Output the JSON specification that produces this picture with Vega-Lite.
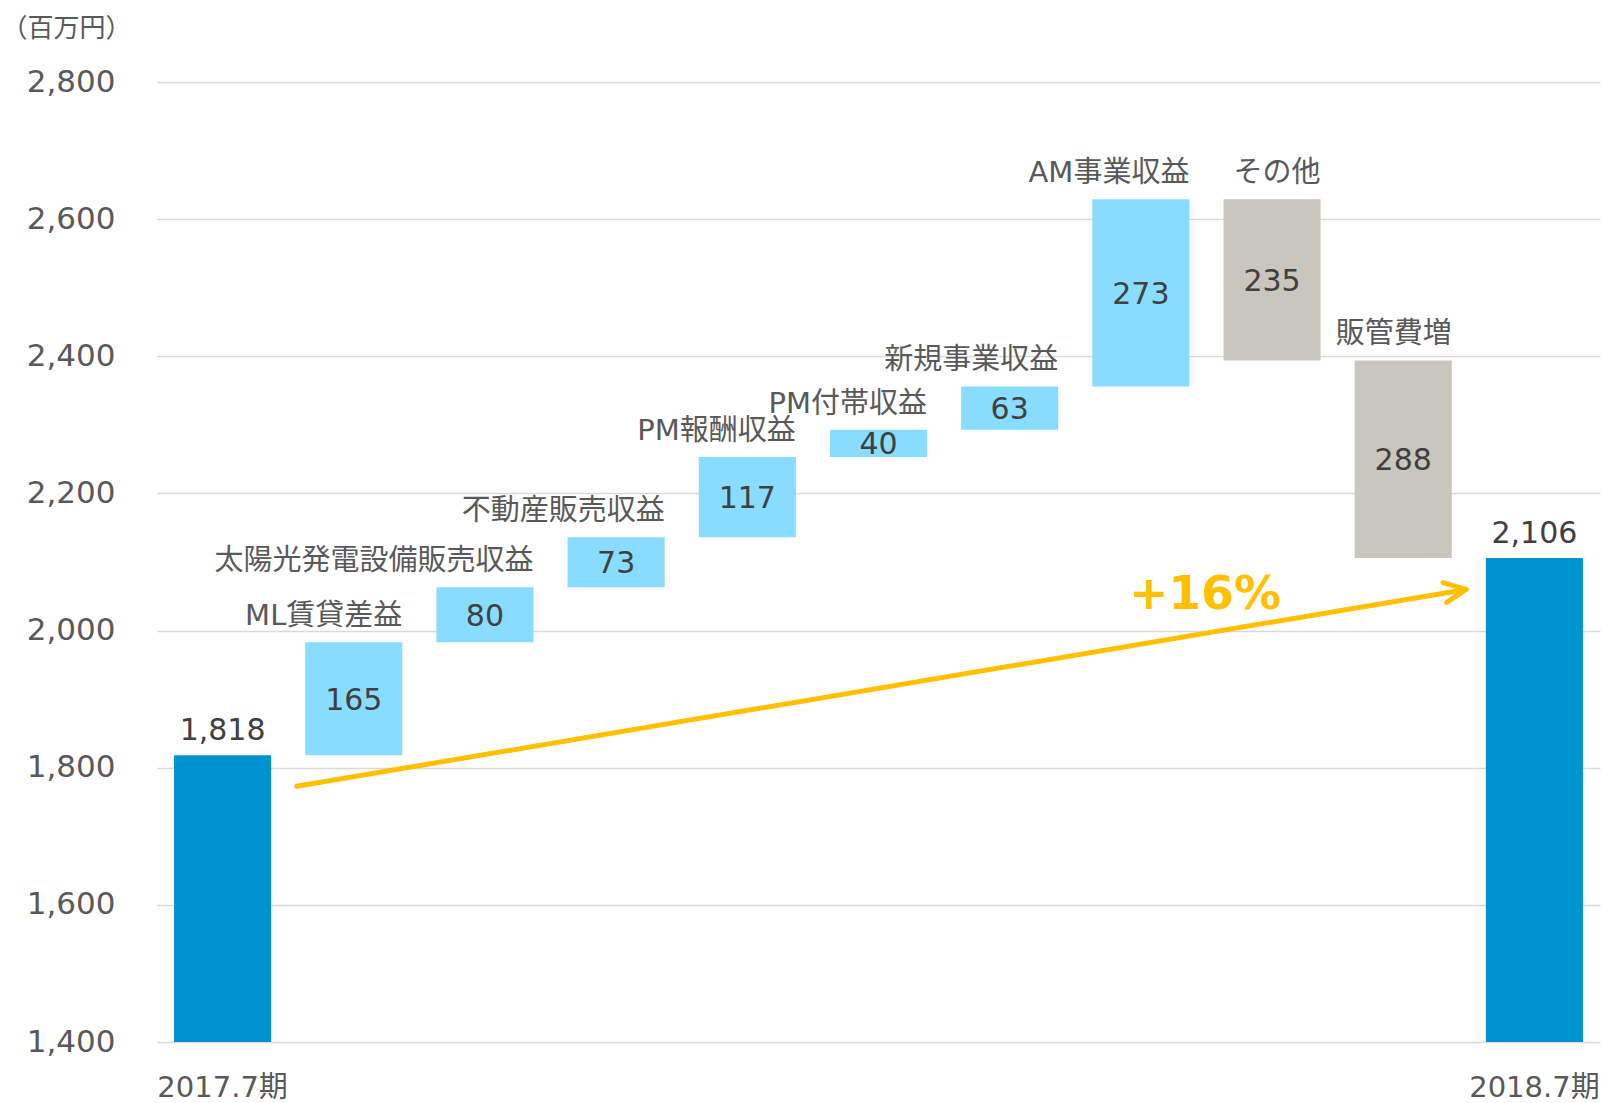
{
  "$schema": "https://vega.github.io/schema/vega-lite/v6.json",
  "width": 1443,
  "height": 960,
  "autosize": {"type": "none"},
  "padding": {"left": 157, "top": 82, "right": 2, "bottom": 61},
  "background": "white",
  "config": {
    "view": {"stroke": null},
    "font": "DejaVu Sans, Noto Sans CJK JP",
    "axisY": {
      "labelFontSize": 31, "labelColor": "#595959", "labelPadding": 42,
      "ticks": false, "domain": false, "grid": true, "gridColor": "#D9D9D9", "gridWidth": 1.5,
      "titleAngle": 0, "titleAlign": "left", "titleBaseline": "middle",
      "titleX": -156, "titleY": -54, "titleFontSize": 26, "titleFontWeight": "normal",
      "titleColor": "#595959", "titleFont": "Noto Sans CJK JP"
    }
  },
  "datasets": {
    "steps": [
      {"cat": "2017.7期", "type": "total", "start": 0, "end": 1818, "label": "1,818"},
      {"cat": "ML賃貸差益", "type": "increase", "start": 1818, "end": 1983, "label": "165"},
      {"cat": "太陽光発電設備販売収益", "type": "increase", "start": 1983, "end": 2063, "label": "80"},
      {"cat": "不動産販売収益", "type": "increase", "start": 2063, "end": 2136, "label": "73"},
      {"cat": "PM報酬収益", "type": "increase", "start": 2136, "end": 2253, "label": "117"},
      {"cat": "PM付帯収益", "type": "increase", "start": 2253, "end": 2293, "label": "40"},
      {"cat": "新規事業収益", "type": "increase", "start": 2293, "end": 2356, "label": "63"},
      {"cat": "AM事業収益", "type": "increase", "start": 2356, "end": 2629, "label": "273"},
      {"cat": "その他", "type": "decrease", "start": 2629, "end": 2394, "label": "235"},
      {"cat": "販管費増", "type": "decrease", "start": 2394, "end": 2106, "label": "288"},
      {"cat": "2018.7期", "type": "total", "start": 0, "end": 2106, "label": "2,106"}
    ],
    "arrow": [
      {"xa": 1.065, "ya": 1773, "xb": 9.979, "yb": 2060},
      {"xa": 9.803, "ya": 2070, "xb": 9.979, "yb": 2060},
      {"xa": 9.831, "ya": 2041, "xb": 9.979, "yb": 2060}
    ],
    "growth": [{"xp": 7.99, "yp": 2031, "t": "+16%"}]
  },
  "resolve": {"scale": {"x": "independent"}, "axis": {"x": "independent"}},
  "layer": [
    {
      "data": {"name": "steps"},
      "mark": {"type": "bar", "clip": true},
      "encoding": {
        "x": {
          "field": "cat", "type": "nominal",
          "scale": {"type": "band", "domain": ["2017.7期", "ML賃貸差益", "太陽光発電設備販売収益", "不動産販売収益", "PM報酬収益", "PM付帯収益", "新規事業収益", "AM事業収益", "その他", "販管費増", "2018.7期"], "paddingInner": 0.26, "paddingOuter": 0.13},
          "axis": {
            "title": null, "labelAngle": 0, "labelFontSize": 29, "labelColor": "#595959",
            "labelPadding": 31, "ticks": false, "domain": false, "grid": false, "labelOverlap": false,
            "labelExpr": "datum.label == '2017.7期' || datum.label == '2018.7期' ? datum.label : ''"
          }
        },
        "y": {
          "field": "start", "type": "quantitative",
          "scale": {"domain": [1400, 2800], "nice": false, "zero": false},
          "axis": {"title": "（百万円）", "labelExpr": "format(datum.value, ',')", "values": [1400, 1600, 1800, 2000, 2200, 2400, 2600, 2800]}
        },
        "y2": {"field": "end"},
        "color": {
          "field": "type", "type": "nominal",
          "scale": {"domain": ["total", "increase", "decrease"], "range": ["#0093D0", "#87DCFF", "#C9C6BD"]},
          "legend": null
        }
      }
    },
    {
      "data": {"name": "steps"},
      "transform": [
        {"filter": "datum.type != 'total'"},
        {"fold": ["start", "end"], "as": ["k", "v"]}
      ],
      "mark": {"type": "text", "fontSize": 30, "color": "#404040", "baseline": "middle", "dy": 2},
      "encoding": {
        "x": {
          "field": "cat", "type": "nominal",
          "scale": {"type": "band", "domain": ["2017.7期", "ML賃貸差益", "太陽光発電設備販売収益", "不動産販売収益", "PM報酬収益", "PM付帯収益", "新規事業収益", "AM事業収益", "その他", "販管費増", "2018.7期"], "paddingInner": 0.26, "paddingOuter": 0.13},
          "axis": null
        },
        "y": {"field": "v", "aggregate": "mean", "type": "quantitative", "axis": {"title": "（百万円）", "labelExpr": "format(datum.value, ',')", "values": [1400, 1600, 1800, 2000, 2200, 2400, 2600, 2800]}},
        "text": {"field": "label", "type": "nominal"}
      }
    },
    {
      "data": {"name": "steps"},
      "transform": [
        {"filter": "datum.type != 'total'"},
        {"fold": ["start", "end"], "as": ["k", "v"]}
      ],
      "mark": {"type": "text", "fontSize": 29, "color": "#595959", "baseline": "alphabetic", "align": "right", "dy": -17},
      "encoding": {
        "x": {
          "field": "cat", "type": "nominal", "bandPosition": 1,
          "scale": {"type": "band", "domain": ["2017.7期", "ML賃貸差益", "太陽光発電設備販売収益", "不動産販売収益", "PM報酬収益", "PM付帯収益", "新規事業収益", "AM事業収益", "その他", "販管費増", "2018.7期"], "paddingInner": 0.26, "paddingOuter": 0.13},
          "axis": null
        },
        "y": {"field": "v", "aggregate": "max", "type": "quantitative", "axis": {"title": "（百万円）", "labelExpr": "format(datum.value, ',')", "values": [1400, 1600, 1800, 2000, 2200, 2400, 2600, 2800]}},
        "text": {"field": "cat", "type": "nominal"}
      }
    },
    {
      "data": {"name": "steps"},
      "transform": [{"filter": "datum.type == 'total'"}],
      "mark": {"type": "text", "fontSize": 30, "color": "#404040", "baseline": "alphabetic", "dy": -15},
      "encoding": {
        "x": {
          "field": "cat", "type": "nominal",
          "scale": {"type": "band", "domain": ["2017.7期", "ML賃貸差益", "太陽光発電設備販売収益", "不動産販売収益", "PM報酬収益", "PM付帯収益", "新規事業収益", "AM事業収益", "その他", "販管費増", "2018.7期"], "paddingInner": 0.26, "paddingOuter": 0.13},
          "axis": null
        },
        "y": {"field": "end", "type": "quantitative", "axis": {"title": "（百万円）", "labelExpr": "format(datum.value, ',')", "values": [1400, 1600, 1800, 2000, 2200, 2400, 2600, 2800]}},
        "text": {"field": "label", "type": "nominal"}
      }
    },
    {
      "data": {"name": "arrow"},
      "mark": {"type": "rule", "color": "#FFC000", "strokeWidth": 5, "strokeCap": "round"},
      "encoding": {
        "x": {"field": "xa", "type": "quantitative", "scale": {"domain": [0, 11], "nice": false, "zero": false}, "axis": null},
        "x2": {"field": "xb"},
        "y": {"field": "ya", "type": "quantitative", "axis": {"title": "（百万円）", "labelExpr": "format(datum.value, ',')", "values": [1400, 1600, 1800, 2000, 2200, 2400, 2600, 2800]}},
        "y2": {"field": "yb"}
      }
    },
    {
      "data": {"name": "growth"},
      "mark": {"type": "text", "fontSize": 47, "fontWeight": "bold", "color": "#FFC000", "baseline": "alphabetic", "align": "center"},
      "encoding": {
        "x": {"field": "xp", "type": "quantitative", "scale": {"domain": [0, 11], "nice": false, "zero": false}, "axis": null},
        "y": {"field": "yp", "type": "quantitative", "axis": {"title": "（百万円）", "labelExpr": "format(datum.value, ',')", "values": [1400, 1600, 1800, 2000, 2200, 2400, 2600, 2800]}},
        "text": {"field": "t", "type": "nominal"}
      }
    }
  ]
}
